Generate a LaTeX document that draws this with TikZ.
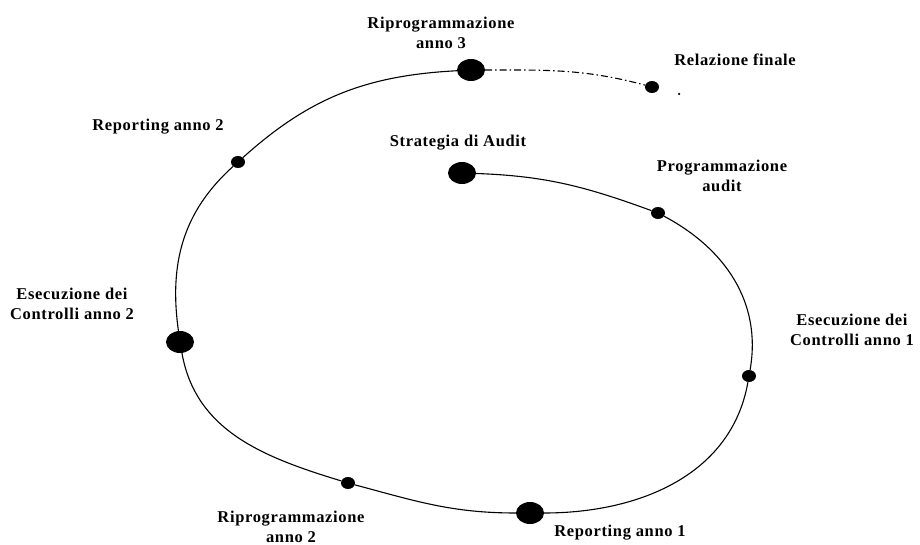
\documentclass[tikz,border=0pt]{standalone}
\usepackage{fontspec}
\setmainfont{Liberation Serif}[LetterSpace=4]
\usetikzlibrary{shapes.geometric}

\tikzset{
    bigdot/.style={ellipse, fill=black, inner sep=0pt, minimum width=28pt, minimum height=22pt},
    smalldot/.style={ellipse, fill=black, inner sep=0pt, minimum width=14pt, minimum height=12pt},
    phase/.style={font=\bfseries\fontsize{16.5}{20}\selectfont, align=center, inner sep=0pt},
    cycleline/.style={line width=1.1pt},
    tailline/.style={line width=1.1pt, dash pattern=on 7pt off 3pt on 1.5pt off 3pt}
}

\begin{document}
\begin{tikzpicture}[x=1pt, y=1pt]
\useasboundingbox (0,0) rectangle (920,544);

% Loop to place the dots
\foreach \nm/\x/\y/\kind in {S/462/371/bigdot, P/658/331/smalldot, E1/749/168/smalldot,
    R1/530/31/bigdot, R2/348/61/smalldot, E2/180/202/bigdot, RA2/238/382/smalldot,
    RP3/471/474/bigdot, RF/652/457/smalldot} {
    \node[\kind] (\nm) at (\x,\y) {};
}
\node[circle, fill=black, inner sep=0pt, minimum size=2.5pt] (end) at (679,450) {};

% The spiral
\draw[cycleline] (S) to[out=-2, in=160] (P)
    to[out=-28, in=80] (E1)
    to[out=-100, in=0] (R1)
    to[out=180, in=-15] (R2)
    to[out=163, in=-80] (E2)
    to[out=98, in=-138] (RA2)
    to[out=42, in=183] (RP3);
\draw[tailline] (RP3) to[out=0, in=165] (RF);

% Labels
\node[phase] (tS) at (458,401) {Strategia di Audit};
\node[phase] (tP) at (722,368) {Programmazione\\audit};
\node[phase] (tE1) at (852,214) {Esecuzione dei\\Controlli anno 1};
\node[phase] (tR1) at (620,11) {Reporting anno 1};
\node[phase] (tR2) at (291,17) {Riprogrammazione\\anno 2};
\node[phase] (tE2) at (72,240) {Esecuzione dei\\Controlli anno 2};
\node[phase] (tRA2) at (158,417) {Reporting anno 2};
\node[phase] (tRP3) at (441,511) {Riprogrammazione\\anno 3};
\node[phase] (tRF) at (735,484) {Relazione finale};

\end{tikzpicture}
\end{document}
